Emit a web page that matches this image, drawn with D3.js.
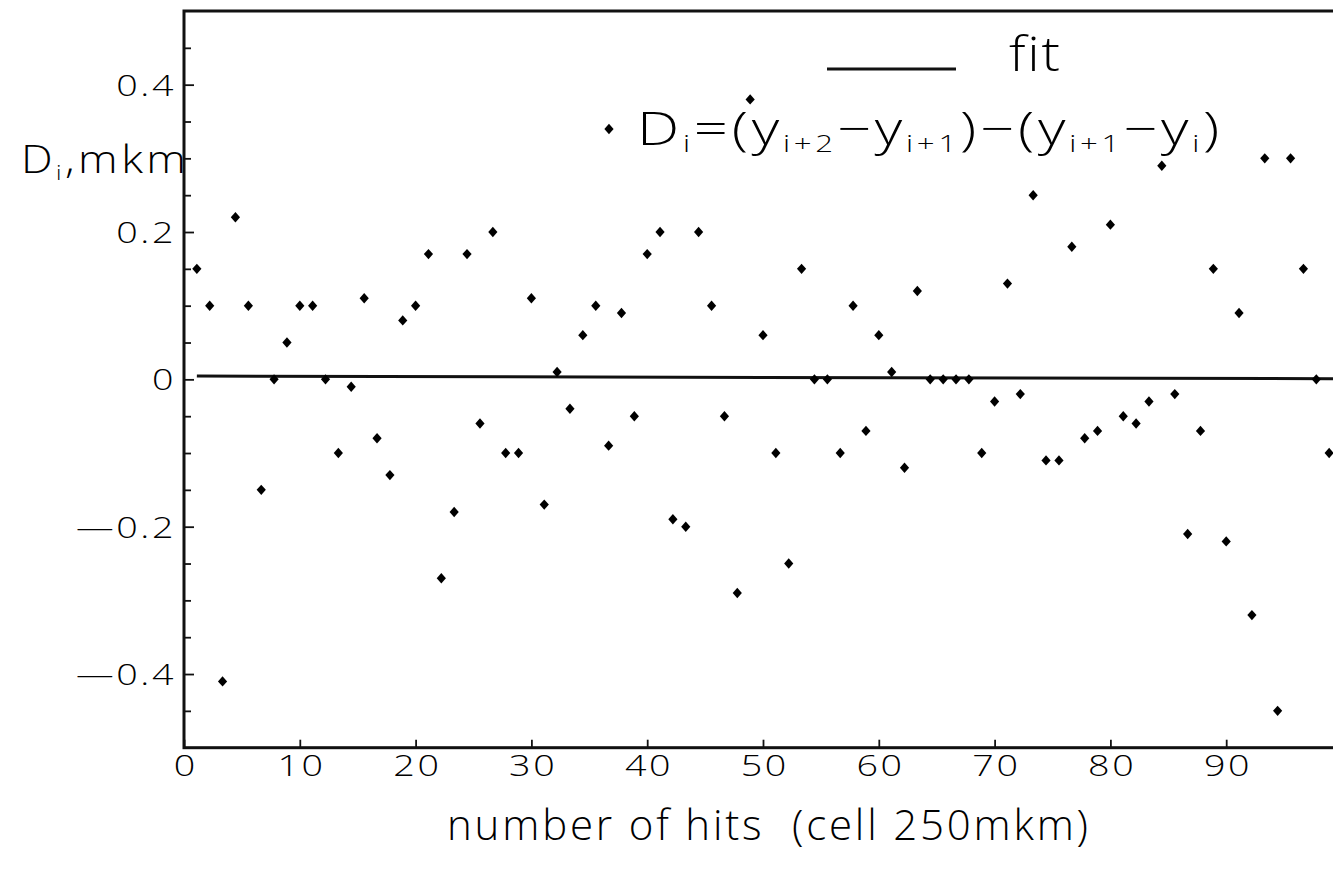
<!DOCTYPE html>
<html>
<head>
<meta charset="utf-8">
<script src="https://cdn.jsdelivr.net/npm/d3@7"></script>
<style>
  body { margin: 0; background: #fff; }
  svg { display: block; }
  text { font-family: "Open Sans", "DejaVu Sans", sans-serif; font-weight: 300; fill: #000; }
</style>
</head>
<body>
<svg id="chart" width="1333" height="874"></svg>
<script>
// ---- data ----
const hits = [1.11, 2.22, 3.33, 4.44, 5.56, 6.67, 7.78, 8.89, 10.0, 11.11,
  12.22, 13.33, 14.44, 15.56, 16.67, 17.78, 18.89, 20.0, 21.11, 22.22,
  23.33, 24.44, 25.56, 26.67, 27.78, 28.89, 30.0, 31.11, 32.22, 33.33,
  34.44, 35.56, 36.67, 37.78, 38.89, 40.0, 41.11, 42.22, 43.33, 44.44,
  45.56, 46.67, 47.78, 48.89, 50.0, 51.11, 52.22, 53.33, 54.44, 55.56,
  56.67, 57.78, 58.89, 60.0, 61.11, 62.22, 63.33, 64.44, 65.56, 66.67,
  67.78, 68.89, 70.0, 71.11, 72.22, 73.33, 74.44, 75.56, 76.67, 77.78,
  78.89, 80.0, 81.11, 82.22, 83.33, 84.44, 85.56, 86.67, 87.78, 88.89,
  90.0, 91.11, 92.22, 93.33, 94.44, 95.56, 96.67, 97.78, 98.89];
const diffs = [0.15, 0.10, -0.41, 0.22, 0.10, -0.15, 0, 0.05, 0.10, 0.10,
  0, -0.10, -0.01, 0.11, -0.08, -0.13, 0.08, 0.10, 0.17, -0.27,
  -0.18, 0.17, -0.06, 0.20, -0.10, -0.10, 0.11, -0.17, 0.01, -0.04,
  0.06, 0.10, -0.09, 0.09, -0.05, 0.17, 0.20, -0.19, -0.20, 0.20,
  0.10, -0.05, -0.29, 0.38, 0.06, -0.10, -0.25, 0.15, 0, 0,
  -0.10, 0.10, -0.07, 0.06, 0.01, -0.12, 0.12, 0, 0, 0,
  0, -0.10, -0.03, 0.13, -0.02, 0.25, -0.11, -0.11, 0.18, -0.08,
  -0.07, 0.21, -0.05, -0.06, -0.03, 0.29, -0.02, -0.21, -0.07, 0.15,
  -0.22, 0.09, -0.32, 0.30, -0.45, 0.30, 0.15, 0, -0.10];
const fitHits = [1.11, 100];
const fitValues = [0.0045, 0.0008];
const xTicks = [0, 10, 20, 30, 40, 50, 60, 70, 80, 90];
const yMajorTicks = [-0.4, -0.2, 0, 0.2, 0.4];
const yMinorTicks = [-0.45, -0.35, -0.3, -0.25, -0.15, -0.1, -0.05, 0.05, 0.1, 0.15, 0.25, 0.3, 0.35, 0.45];
const xDomain = [0, 100];
const yDomain = [-0.5, 0.5];

// ---- layout ----
const svg = d3.select("#chart");
const mLeft = 184, mRight = 1342, mTop = 11, mBottom = 747.7;
const x = d3.scaleLinear().domain(xDomain).range([mLeft, mRight]);
const y = d3.scaleLinear().domain(yDomain).range([mBottom, mTop]);
const ink = "#111";
const FONT = "'Open Sans', 'DejaVu Sans', sans-serif";
const SX = 1.3;   // horizontal widening of the light font

// minor y ticks
svg.append("g").attr("transform", `translate(${mLeft},0)`)
  .call(d3.axisLeft(y).tickValues(yMinorTicks).tickSize(-7).tickFormat(""))
  .call(g => g.select(".domain").remove())
  .call(g => g.selectAll("line").attr("stroke", ink).attr("stroke-width", 1.8));

// major y ticks + labels
const fmtY = d => d === 0 ? "0" : (d < 0 ? "\u2014" + d3.format(".1f")(-d) : d3.format(".1f")(d));
svg.append("g").attr("transform", `translate(${mLeft},0)`)
  .call(d3.axisLeft(y).tickValues(yMajorTicks).tickSize(-10).tickPadding(10).tickFormat(fmtY))
  .call(g => g.select(".domain").remove())
  .call(g => g.selectAll("line").attr("stroke", ink).attr("stroke-width", 1.8))
  .call(g => g.selectAll("text").attr("font-size", 29).attr("letter-spacing", 2)
      .attr("font-family", FONT).attr("font-weight", 300).attr("fill", "#000")
      .attr("dy", "0.36em").attr("x", -8 / SX).attr("transform", `scale(${SX},1)`));

// x ticks + labels
svg.append("g").attr("transform", `translate(0,${mBottom})`)
  .call(d3.axisBottom(x).tickValues(xTicks).tickSize(-8).tickPadding(8).tickFormat(d3.format("d")))
  .call(g => g.select(".domain").remove())
  .call(g => g.selectAll("line").attr("stroke", ink).attr("stroke-width", 1.8))
  .call(g => g.selectAll("text").attr("font-size", 29).attr("letter-spacing", 2)
      .attr("font-family", FONT).attr("font-weight", 300).attr("fill", "#000")
      .attr("x", 1).attr("transform", `scale(${SX},1)`));

// frame
svg.append("rect").attr("x", mLeft).attr("y", mTop)
  .attr("width", mRight - mLeft).attr("height", mBottom - mTop)
  .attr("fill", "none").attr("stroke", ink).attr("stroke-width", 3);

// fit line
const fitData = fitHits.map((h, i) => [h, fitValues[i]]);
svg.append("path").datum(fitData)
  .attr("d", d3.line().x(d => x(d[0])).y(d => y(d[1])))
  .attr("fill", "none").attr("stroke", ink).attr("stroke-width", 3);

// points
const diamond = "M0,-5.2L4.6,0L0,5.2L-4.6,0Z";
svg.append("g").selectAll("path").data(hits.map((h, i) => [h, diffs[i]])).join("path")
  .attr("d", diamond)
  .attr("transform", d => `translate(${x(d[0])},${y(d[1])})`)
  .attr("fill", "#000");

// legend
svg.append("line").attr("x1", 827).attr("x2", 956).attr("y1", 69).attr("y2", 69)
  .attr("stroke", ink).attr("stroke-width", 3);
svg.append("text").attr("transform", "translate(1009,71) scale(1.15,1)")
  .attr("font-size", 48).attr("letter-spacing", 1.5).text("fit");
svg.append("path").attr("d", diamond).attr("transform", "translate(609,129)").attr("fill", "#000");

const legendParts = [
  ["D", 0], ["i", 1], ["=(y", 0], ["i+2", 1], ["\u2212y", 0], ["i+1", 1],
  [")\u2212(y", 0], ["i+1", 1], ["\u2212y", 0], ["i", 1], [")", 0]
];
const lt = svg.append("text").attr("transform", `translate(637,145) scale(${SX},1)`)
  .attr("letter-spacing", 2.9);
let prevSub = 0;
legendParts.forEach(([s, sub]) => {
  lt.append("tspan").text(s)
    .attr("font-size", sub ? 24 : 46)
    .attr("dy", sub === prevSub ? 0 : (sub ? 7 : -7));
  prevSub = sub;
});

// y axis title
const yt = svg.append("text").attr("transform", "translate(21,173) scale(1.15,1)").attr("letter-spacing", 3);
yt.append("tspan").attr("font-size", 39).text("D");
yt.append("tspan").attr("font-size", 21).attr("dy", 7).text("i");
yt.append("tspan").attr("font-size", 39).attr("dy", -7).text(",mkm");

// x axis title
svg.append("text").attr("x", 447).attr("y", 840).attr("font-size", 42)
  .attr("textLength", 641).attr("lengthAdjust", "spacing")
  .style("white-space", "pre")
  .text("number of hits  (cell 250mkm)");
</script>
</body>
</html>
